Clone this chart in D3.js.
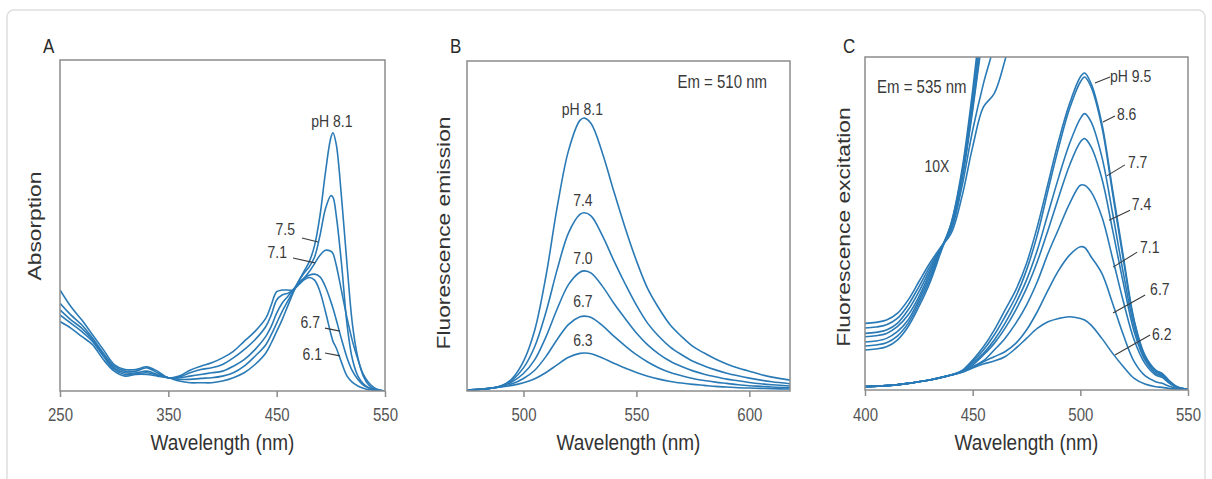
<!DOCTYPE html>
<html>
<head>
<meta charset="utf-8">
<script src="https://cdn.jsdelivr.net/npm/d3@7"></script>
<style>
  body { margin: 0; background: #fff; }
  svg { font-family: "Liberation Sans", Arial, sans-serif; }
</style>
</head>
<body>
<svg id="chart" width="1212" height="479"></svg>
<script>
// ---- panel A : absorption spectra ----
const wlAbs = [250, 260, 270, 280, 290, 300, 310, 320, 330, 340, 350, 360, 370, 380, 390,
  400, 410, 420, 430, 440, 445, 450, 455, 460, 465, 470, 475, 480, 485, 490, 495, 500,
  502, 505, 510, 515, 520, 525, 530, 535, 540, 545, 550];
const abs81 = [21, 19, 16.5, 14, 9.5, 6, 4.5, 5, 5, 4.5, 4, 3, 2.5, 2.5, 2.5, 3, 4, 5.5, 8, 11.5,
  14.5, 18, 21.5, 25.5, 29.5, 33, 36, 39, 44, 53, 66, 76.5, 78, 74.5, 58, 38, 20, 10, 4.5, 1.8, 0.6, 0.2, 0];
const abs75 = [23, 20.5, 18, 15, 10.5, 6.5, 5, 5.2, 5.5, 4.8, 4, 3.5, 3.5, 3.8, 4, 4.5, 5.5, 7.5, 10.5, 14,
  17, 20.5, 24, 27, 30, 33, 35.5, 37.5, 40.5, 47, 55, 59, 58.5, 53, 38, 20, 9.5, 4.5, 2.2, 1, 0.4, 0.1, 0];
const abs71 = [24.5, 21.5, 19, 15.5, 11, 7, 5.5, 5.5, 6, 5, 4, 4, 4.5, 5, 5.5, 6, 7.5, 9.5, 12.5, 16.5,
  19.5, 23.5, 26.5, 28.5, 30.5, 32.5, 34, 36, 38.5, 41, 42.5, 42.2, 41.5, 38, 30, 22, 15, 9.5, 5, 2.5, 1, 0.3, 0];
const abs67 = [26.5, 23, 20, 16, 11.5, 7.5, 6, 6, 7, 5.5, 4, 4.2, 5.5, 6.5, 7, 8, 10, 12.5, 15.5, 19.5,
  23, 27.5, 29, 29.5, 30.5, 32.3, 34, 35, 35.3, 34.5, 31.5, 27, 25, 21.5, 15.5, 10, 6, 3.5, 1.8, 0.9, 0.4, 0.15, 0];
const abs61 = [30.5, 25.5, 21.5, 17, 12.5, 8, 6.5, 6.5, 7.3, 6, 4, 4.5, 6.3, 7.5, 8.5, 10, 12, 15, 18, 22,
  26, 30, 30.5, 30.5, 30.5, 32, 33.5, 34.3, 33.5, 30, 24, 17.3, 15, 13, 8.5, 4.5, 2.6, 1.5, 0.8, 0.4, 0.2, 0.1, 0];

// ---- panel B : emission spectra ----
const wlEm = [475, 480, 485, 490, 495, 500, 505, 510, 515, 520, 525, 527, 530, 535, 540, 545,
  550, 555, 560, 565, 570, 575, 580, 585, 590, 595, 600, 605, 610, 618];
const em81 = [0.3, 0.5, 0.8, 1.5, 3.8, 9, 18.5, 35, 56, 73, 82, 82.7, 81, 72, 60.5, 49.5,
  39.5, 31, 25, 20, 16.5, 13.5, 11.5, 9.7, 8.2, 7, 6, 5, 4.2, 3.3];
const em74 = [0.3, 0.5, 0.8, 1.5, 3.3, 7, 13.5, 24, 37, 48, 53.5, 54, 53, 47, 39.5, 32.5,
  26, 20.5, 16.5, 13.3, 11, 9, 7.6, 6.4, 5.4, 4.6, 3.9, 3.3, 2.8, 2.2];
const em70 = [0.3, 0.5, 0.8, 1.4, 2.8, 5.3, 9.5, 16.5, 25, 32.3, 36, 36.4, 35.7, 31.7, 26.6, 22,
  17.6, 14, 11.2, 9, 7.4, 6.1, 5.1, 4.3, 3.6, 3.1, 2.6, 2.2, 1.9, 1.5];
const em67 = [0.3, 0.5, 0.8, 1.3, 2.2, 3.8, 6.3, 10.5, 15.7, 20.2, 22.5, 22.7, 22.3, 19.8, 16.6, 13.7,
  11, 8.8, 7, 5.6, 4.6, 3.8, 3.2, 2.7, 2.3, 1.9, 1.6, 1.4, 1.2, 1];
const em63 = [0.3, 0.5, 0.8, 1.2, 1.7, 2.5, 3.7, 5.6, 8, 10.2, 11.4, 11.5, 11.3, 10, 8.4, 7,
  5.6, 4.5, 3.6, 2.9, 2.4, 2, 1.7, 1.4, 1.2, 1, 0.9, 0.8, 0.7, 0.6];

// ---- panel C : excitation spectra ----
const wlEx = [400, 410, 420, 430, 440, 445, 450, 455, 460, 465, 470, 475, 480, 485, 490,
  495, 500, 502, 505, 510, 515, 520, 525, 530, 535, 538, 541, 545, 550];
const ex95 = [1, 1.3, 2, 3, 4.5, 5.8, 9, 13, 18, 24, 30, 38, 49, 62, 75,
  86, 94, 95.2, 92, 80, 60, 40, 21, 10.5, 6, 5, 3, 1, 0.2];
const ex86 = [1, 1.3, 2, 3, 4.5, 5.7, 8.5, 12, 16.5, 22, 28, 36, 46.5, 60, 73,
  84.5, 92.5, 94, 91, 79, 59, 39, 20.5, 10, 5.8, 4.8, 2.8, 0.9, 0.2];
const ex77 = [1, 1.3, 2, 3, 4.5, 5.6, 8, 11, 15, 20, 26, 33, 42, 53, 64,
  74, 81.5, 83, 80.5, 70, 53, 35, 19, 9.5, 5.5, 4.5, 2.6, 0.8, 0.2];
const ex74 = [1, 1.3, 2, 3, 4.5, 5.5, 7.5, 10.5, 14, 18.5, 24, 30.5, 38.5, 48, 58,
  67.5, 74.5, 75.5, 73, 63.5, 48, 32, 17.5, 9, 5, 4.2, 2.4, 0.8, 0.2];
const ex71 = [1, 1.3, 2, 3, 4.5, 5.4, 7, 8.8, 12, 15.5, 20, 25.5, 32.5, 41, 48.5,
  56, 61.5, 61.5, 59.5, 52, 39.5, 26.5, 15, 8, 4.5, 3.8, 2.2, 0.7, 0.2];
const ex67 = [1, 1.3, 2, 3, 4.5, 5.3, 6.8, 8.5, 10, 11.5, 14, 18, 23.5, 30, 36,
  40.5, 43, 42.8, 40, 35, 26, 16.5, 8.5, 4.3, 2.5, 2, 1.2, 0.4, 0.1];
const ex62 = [1, 1.3, 2, 3, 4.5, 5.3, 6.6, 7.8, 8.7, 10, 12.5, 15.5, 18.5, 20.5, 21.5,
  22, 21.5, 21, 19.5, 15.5, 11, 7, 3.5, 1.8, 1, 0.8, 0.5, 0.2, 0];

// the same spectra magnified 10X (run off the top of the frame)
const wlTen = [400, 405, 410, 415, 420, 425, 430, 435, 440, 445, 450, 455, 460, 465, 470];
const ten95 = [12, 12.3, 13, 15, 19, 25, 32, 41, 50, 66, 90, 118, 150, 185, 220];
const ten86 = [13.2, 13.5, 14.2, 16.2, 20, 26, 33, 41.5, 50, 65, 88, 115, 146, 180, 215];
const ten77 = [14.4, 14.7, 15.5, 17.5, 21, 27, 34, 42, 49.5, 64, 87, 113, 142, 175, 210];
const ten74 = [16, 16.3, 17, 19, 22.5, 28, 35, 42, 49, 63.5, 85, 110, 138, 170, 205];
const ten71 = [17, 17.3, 18, 20, 24, 29.5, 36, 42.3, 48.5, 63, 84, 108, 135, 165, 200];
const ten67 = [18.6, 18.9, 19.6, 21.5, 25.5, 31, 37, 42.5, 48, 61, 78, 92, 104, 125, 150];
const ten62 = [20, 20.3, 21, 23, 27, 32.5, 38, 42.7, 47, 58, 73, 85, 89, 99, 112];

// tick labels
const ticksA = [250, 350, 450, 550];
const ticksB = [500, 550, 600];
const ticksC = [400, 450, 500, 550];

// annotations, anchored in data units [wavelength, value]
const notesA = [['pH 8.1', 501, 79.8, 'middle'], ['7.5', 466.9, 47.1, 'end'], ['7.1', 459.5, 40.2, 'end'],
  ['6.7', 490, 19, 'end'], ['6.1', 491.8, 9.4, 'end']];
const leadersA = [[473.4, 46.2, 488.2, 45], [465.1, 40.2, 485.4, 38.7],
  [494.6, 19, 508.5, 18.1], [494.6, 11.5, 508.5, 10.6]];
const notesB = [['pH 8.1', 526.1, 83.6, 'middle'], ['7.4', 526.3, 56, 'middle'], ['7.0', 526.3, 38.5, 'middle'],
  ['6.7', 526.3, 25.5, 'middle'], ['6.3', 526.3, 13.6, 'middle']];
const notesC = [['pH 9.5', 513.8, 92.5, 'start'], ['8.6', 517, 81, 'start'], ['7.7', 522.1, 66.7, 'start'],
  ['7.4', 523.9, 54, 'start'], ['7.1', 527.7, 41.1, 'start'], ['6.7', 532.4, 28.5, 'start'],
  ['6.2', 533.3, 15, 'start'], ['10X', 433.4, 65.5, 'middle']];
const leadersC = [[506.8, 92.2, 513.8, 94], [510.5, 80.5, 516.1, 82.3], [512.3, 64.3, 520.7, 67.6],
  [513.3, 51, 523.1, 54], [515.2, 36.9, 526.4, 41.4], [515.2, 23.1, 530.1, 28.5], [516.1, 10.5, 532.4, 16.5]];

const blue = '#2a7ab6';
const frameColor = '#8c8c8c';
const svg = d3.select('#chart');

// card outline behind the figure
svg.append('rect')
  .attr('x', 7).attr('y', 10).attr('width', 1198).attr('height', 520).attr('rx', 7)
  .attr('fill', 'none').attr('stroke', '#dedede').attr('stroke-width', 1.5);

// text is drawn 1.2x taller than wide, like the scanned figure
function addText(g, px, py, str, size, anchor, color) {
  return g.append('text')
    .attr('transform', 'translate(' + px + ',' + py + ') scale(1,1.2)')
    .attr('text-anchor', anchor)
    .attr('font-size', size)
    .attr('fill', color)
    .text(str);
}

function drawPanel(p) {
  const x = d3.scaleLinear().domain(p.xDomain).range([p.left, p.right]);
  const y = d3.scaleLinear().domain([0, 100]).range([p.bottom, p.top]);
  const g = svg.append('g');

  g.append('clipPath').attr('id', 'clip' + p.letter)
    .append('rect')
    .attr('x', p.left).attr('y', p.top)
    .attr('width', p.right - p.left).attr('height', p.bottom - p.top);

  const line = d3.line()
    .x(d => x(d[0]))
    .y(d => y(d[1]))
    .curve(d3.curveCatmullRom.alpha(0.5));

  p.series.forEach(function(s) {
    g.append('path')
      .datum(d3.zip(s[0], s[1]))
      .attr('clip-path', 'url(#clip' + p.letter + ')')
      .attr('fill', 'none')
      .attr('stroke', blue)
      .attr('stroke-width', 1.6)
      .attr('d', line);
  });

  // frame
  g.append('rect')
    .attr('x', p.left).attr('y', p.top)
    .attr('width', p.right - p.left).attr('height', p.bottom - p.top)
    .attr('fill', 'none').attr('stroke', frameColor).attr('stroke-width', 1.5);

  // x axis
  const ax = g.append('g')
    .attr('transform', 'translate(0,' + p.bottom + ')')
    .call(d3.axisBottom(x).tickValues(p.ticks).tickSize(6).tickSizeOuter(0).tickFormat(d3.format('d')));
  ax.attr('font-family', null).attr('font-size', 15);
  ax.select('.domain').remove();
  ax.selectAll('line').attr('stroke', frameColor).attr('stroke-width', 1.5);
  ax.selectAll('text')
    .attr('y', null).attr('dy', null)
    .attr('fill', '#555')
    .attr('transform', 'translate(0,' + (421 - p.bottom) + ') scale(1,1.2)');

  addText(g, (p.left + p.right) / 2, 450, 'Wavelength (nm)', 19, 'middle', '#333');

  g.append('text')
    .attr('transform', 'translate(' + p.yTitleX + ',' + p.yTitleY + ') scale(1,1.2) rotate(-90)')
    .attr('text-anchor', 'middle')
    .attr('font-size', 19)
    .attr('fill', '#333')
    .text(p.yTitle);

  addText(g, p.letterX, 53, p.letter, 17, 'start', '#2a2a2a');

  p.notes.forEach(function(n) {
    addText(g, x(n[1]), y(n[2]), n[0], 14, n[3], '#3a3a3a');
  });
  p.leaders.forEach(function(l) {
    g.append('line')
      .attr('x1', x(l[0])).attr('y1', y(l[1]))
      .attr('x2', x(l[2])).attr('y2', y(l[3]))
      .attr('stroke', '#3a3a3a').attr('stroke-width', 1.1);
  });
  if (p.em) addText(g, x(p.em[1]), y(p.em[2]), p.em[0], 15, p.em[3], '#3a3a3a');
}

drawPanel({
  letter: 'A', letterX: 43,
  left: 60, right: 385, top: 60, bottom: 391,
  xDomain: [250, 550], ticks: ticksA,
  yTitle: 'Absorption', yTitleX: 41, yTitleY: 226,
  series: [[wlAbs, abs81], [wlAbs, abs75], [wlAbs, abs71], [wlAbs, abs67], [wlAbs, abs61]],
  notes: notesA, leaders: leadersA
});

drawPanel({
  letter: 'B', letterX: 450,
  left: 467, right: 790, top: 61, bottom: 391,
  xDomain: [475, 618], ticks: ticksB,
  yTitle: 'Fluorescence emission', yTitleX: 450, yTitleY: 233,
  series: [[wlEm, em81], [wlEm, em74], [wlEm, em70], [wlEm, em67], [wlEm, em63]],
  notes: notesB, leaders: [],
  em: ['Em = 510 nm', 607.8, 91.8, 'end']
});

drawPanel({
  letter: 'C', letterX: 843,
  left: 865, right: 1188, top: 57, bottom: 390,
  xDomain: [400, 550], ticks: ticksC,
  yTitle: 'Fluorescence excitation', yTitleX: 850, yTitleY: 227,
  series: [[wlEx, ex95], [wlEx, ex86], [wlEx, ex77], [wlEx, ex74], [wlEx, ex71], [wlEx, ex67], [wlEx, ex62],
    [wlTen, ten95], [wlTen, ten86], [wlTen, ten77], [wlTen, ten74], [wlTen, ten71], [wlTen, ten67], [wlTen, ten62]],
  notes: notesC, leaders: leadersC,
  em: ['Em = 535 nm', 405.6, 89.2, 'start']
});
</script>
</body>
</html>
